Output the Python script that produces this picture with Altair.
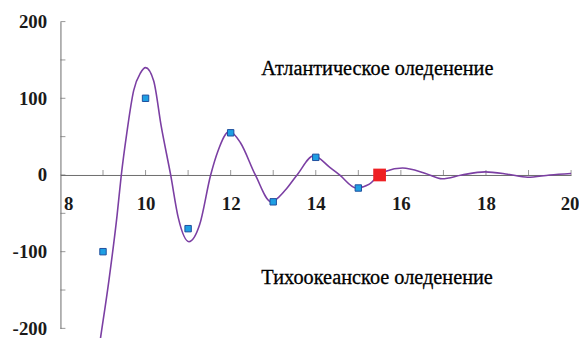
import altair as alt
import pandas as pd

# Smooth curve (x, y)
curve_x = [8.87, 8.93, 9.14, 9.33, 9.43, 9.56, 9.72, 9.88, 10.0, 10.19, 10.37, 10.59,
           10.77, 11.02, 11.27, 11.53, 11.70, 11.97, 12.23, 12.58, 12.95, 13.28, 13.56,
           13.95, 14.33, 14.56, 14.95, 15.26, 15.49, 15.65, 16.04, 16.58, 16.97, 17.43,
           17.98, 18.51, 18.98, 19.5, 20.0]
curve_y = [-240, -217, -137, -53, 0, 55, 110, 133, 140, 123, 63, 0,
           -56, -87, -65, 0, 31, 57, 42, 0, -35, -20, 0,
           25, 10, 0, -17, -12, 0, 5, 9, 2, -5, 0,
           4, 1, -3, 0, 2]

# Observed points (blue squares)
obs_x = [9, 10, 11, 12, 13, 14, 15]
obs_y = [-100, 100, -70, 55, -35, 23, -17]

# Highlighted point (red square)
red_x = [15.5]
red_y = [0]

# Axis ticks / labels
x_tick_values = [9, 10, 11, 12, 13, 14, 15, 16, 17, 18, 19, 20]
y_tick_values = [-200, -150, -100, -50, 0, 50, 100, 150, 200]
x_label_values = [8, 10, 12, 14, 16, 18, 20]
y_label_values = [-200, -100, 0, 100, 200]

# Annotations
note_text = ["Атлантическое оледенение", "Тихоокеанское оледенение"]
note_x = [12.72, 12.72]
note_y = [138, -135]

W, H = 516, 310
FONT = "Liberation Serif, Times New Roman, DejaVu Serif, serif"
AXIS_COLOR = "#6b6b6b"

xs = alt.Scale(domain=[8, 20], nice=False, zero=False)
ys = alt.Scale(domain=[-200, 200], nice=False, zero=False)

curve_df = pd.DataFrame({"x": curve_x, "y": curve_y})
obs_df = pd.DataFrame({"x": obs_x, "y": obs_y})
red_df = pd.DataFrame({"x": red_x, "y": red_y})
xt_df = pd.DataFrame({"x": x_tick_values, "y": [0] * len(x_tick_values)})
yt_df = pd.DataFrame({"x": [8] * len(y_tick_values), "y": y_tick_values})
note_df = pd.DataFrame({"x": note_x, "y": note_y, "t": note_text})

x_axis = alt.Axis(
    orient="bottom", offset=-H / 2, values=x_label_values, ticks=False, grid=False,
    domainColor=AXIS_COLOR, domainWidth=1, labelFont=FONT, labelFontSize=19,
    labelFontWeight="bold", labelColor="#1a1a1a", labelPadding=20, title=None,
    labelExpr="'' + datum.value",
    labelAlign={"condition": [{"test": "datum.value === 8", "value": "left"},
                              {"test": "datum.value === 20", "value": "right"}],
                "value": "center"},
    labelOffset={"condition": [{"test": "datum.value === 8", "value": 3},
                               {"test": "datum.value === 20", "value": 8}],
                 "value": 0},
)
y_axis = alt.Axis(
    orient="left", values=y_label_values, ticks=False, grid=False,
    domainColor=AXIS_COLOR, domainWidth=1, labelFont=FONT, labelFontSize=19,
    labelFontWeight="bold", labelColor="#1a1a1a", labelPadding=14, title=None,
    labelExpr="'' + datum.value",
)

X = alt.X("x:Q", scale=xs, axis=x_axis)
Y = alt.Y("y:Q", scale=ys, axis=y_axis)

curve = alt.Chart(curve_df).mark_line(
    color="#7b3fa3", strokeWidth=1.6, interpolate="monotone", clip=False
).encode(x=X, y=Y)

xticks = alt.Chart(xt_df).mark_tick(
    orient="vertical", size=5, thickness=1, color=AXIS_COLOR, yOffset=-2.5
).encode(x=X, y=Y)

yticks = alt.Chart(yt_df).mark_tick(
    orient="horizontal", size=5, thickness=1, color=AXIS_COLOR, xOffset=2.5
).encode(x=X, y=Y)

obs = alt.Chart(obs_df).mark_point(
    shape="square", filled=True, size=42, color="#1e9fe3", stroke="#1f4f9e",
    strokeWidth=1, opacity=1
).encode(x=X, y=Y)

red = alt.Chart(red_df).mark_point(
    shape="square", filled=True, size=165, color="#ee2024", opacity=1
).encode(x=X, y=Y)

notes = alt.Chart(note_df).mark_text(
    align="left", baseline="middle", font=FONT, fontSize=20.5, color="#000000",
    stroke="#000000", strokeWidth=0.3
).encode(x=X, y=Y, text="t:N")

chart = alt.layer(xticks, yticks, curve, obs, red, notes).properties(
    width=W, height=H,
    autosize=alt.AutoSizeParams(type="none"),
    padding={"left": 53, "top": 12, "right": 8, "bottom": 8},
    background="white",
).configure_view(stroke=None)

chart.save("out.html", embed_options={"renderer": "svg", "actions": False})
